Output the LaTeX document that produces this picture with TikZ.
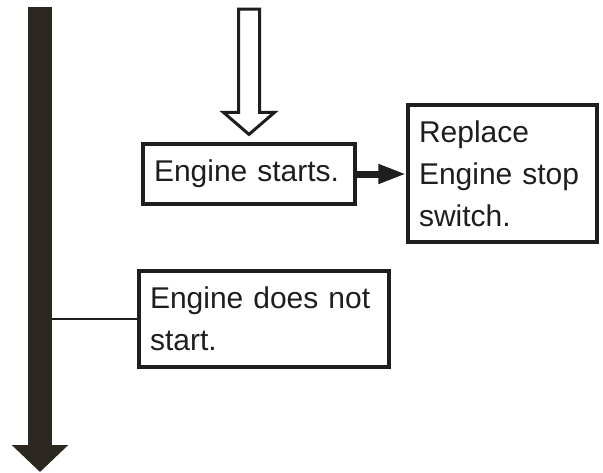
\documentclass[tikz,border=0pt]{standalone}
\usepackage{fontspec}
\setmainfont{Liberation Sans}
\usetikzlibrary{calc,arrows.meta}
\definecolor{barbrown}{RGB}{44,39,32}
\definecolor{ink}{RGB}{30,30,30}

\begin{document}
\begin{tikzpicture}[x=1pt,y=-1pt,
  stepbox/.style={draw=ink,line width=3.2pt,rectangle,align=left,inner ysep=0pt,inner xsep=11pt,
    font=\fontsize{30}{42}\selectfont,text=ink}]
\useasboundingbox (0,0) rectangle (603,472);

\node[stepbox,minimum width=212pt,minimum height=60pt,text width=190pt] (starts) at (249,174) {Engine starts.};
\node[stepbox,minimum width=189pt,minimum height=137pt,text width=167pt] (replace) at (502.5,173.5) {Replace\\Engine stop\\switch.};
\node[stepbox,minimum width=250pt,minimum height=96pt,text width=228pt] (nostart) at (264,319) {Engine does not\\start.};

\coordinate (bartop) at (40,7);
\coordinate (bartip) at (40,472);
\coordinate (intop) at (starts.north |- 0,9);
\coordinate (intip) at ($(starts.north)+(0,-8)$);

% main line down the left side
\draw[ink,line width=2.4pt] (nostart.west -| bartop) -- (nostart.west);
\draw[barbrown,line width=24pt,-{Triangle[length=27pt,width=55pt]}] (bartop) -- (bartip);

% hollow arrow into the first check
\draw[ink,line width=3pt,fill=white,line join=miter]
  ($(intop)+(-10.5,0)$) -- ($(intop)+(10.5,0)$) -- ($(intip)+(10.5,-22)$) -- ($(intip)+(25.5,-22)$)
  -- (intip) -- ($(intip)+(-25.5,-22)$) -- ($(intip)+(-10.5,-22)$) -- cycle;

\draw[ink,line width=7pt,-{Triangle[length=28pt,width=18pt]}] (starts.east) -- (starts.east -| replace.west);
\end{tikzpicture}
\end{document}
